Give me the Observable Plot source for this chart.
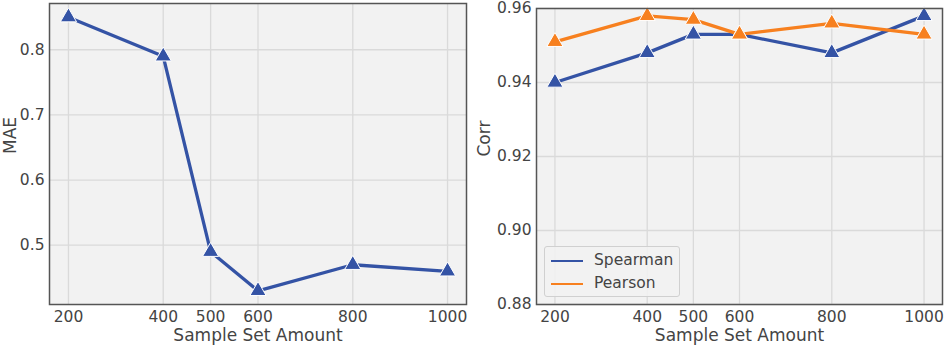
<!DOCTYPE html>
<html>
<head>
<meta charset="utf-8">
<script src="https://cdn.jsdelivr.net/npm/d3@7"></script>
<script src="https://cdn.jsdelivr.net/npm/@observablehq/plot@0.6"></script>
<style>
  body { margin: 0; background: #fff; }
  #wrap { position: relative; width: 951px; height: 345px; font-family: "DejaVu Sans", sans-serif; }
  #left { position: absolute; left: 0; top: 0; }
  #right { position: absolute; left: 470px; top: 0; }
  #legend { position: absolute; left: 544px; top: 246px; width: 136px; height: 51px; border: 1px solid #d0d0d0; border-radius: 3px; background: rgba(242,242,242,0.85); box-sizing: border-box; }
  .item { position: absolute; left: 0; font-size: 15.5px; color: #444; line-height: 18px; }
  .item span.ln { position: absolute; left: 6px; top: 9px; width: 32px; height: 2px; }
  .item span.tx { position: absolute; left: 49px; top: 0; white-space: nowrap; }
</style>
</head>
<body>
<div id="wrap">
  <div id="left"></div>
  <div id="right"></div>
  <div id="legend"></div>
</div>
<script>
const sizes = [200, 400, 500, 600, 800, 1000];
const maeValues = [0.85, 0.79, 0.49, 0.43, 0.47, 0.46];
const spearmanValues = [0.940, 0.948, 0.953, 0.953, 0.948, 0.958];
const pearsonValues = [0.951, 0.958, 0.957, 0.953, 0.956, 0.953];
const maeTicks = [0.5, 0.6, 0.7, 0.8];
const corrTicks = [0.88, 0.90, 0.92, 0.94, 0.96];
const seriesNames = ["Spearman", "Pearson"];
const seriesColors = ["#3453a5", "#f7801f"];
const xLabel = "Sample Set Amount";

const blue = seriesColors[0];
const maeData = sizes.map((s, i) => ({size: s, value: maeValues[i]}));
const corrData = [
  ...sizes.map((s, i) => ({size: s, value: spearmanValues[i], series: seriesNames[0]})),
  ...sizes.map((s, i) => ({size: s, value: pearsonValues[i], series: seriesNames[1]}))
];

const style = {fontFamily: "DejaVu Sans, sans-serif", fontSize: "15px", color: "#444", background: "transparent", overflow: "visible"};
const gridStyle = {stroke: "#dadada", strokeOpacity: 1, strokeWidth: 1.3};

function common(yTicks, fmt, yLabel, yLabelDx) {
  return [
    Plot.frame({fill: "#f2f2f2"}),
    Plot.gridX(sizes, gridStyle),
    Plot.gridY(yTicks, gridStyle),
    Plot.axisX(sizes, {tickSize: 0, tickPadding: 6, tickFormat: d => String(d), label: null, fontSize: 15.5}),
    Plot.axisY(yTicks, {tickSize: 0, tickPadding: 5, tickFormat: fmt, label: null, fontSize: 15.5}),
    Plot.text([xLabel], {text: d => d, frameAnchor: "bottom", lineAnchor: "middle", dy: 31, fontSize: 17, fill: "#444"}),
    Plot.text([yLabel], {text: d => d, frameAnchor: "left", lineAnchor: "middle", dx: yLabelDx, rotate: -90, fontSize: 17, fill: "#444"})
  ];
}

const left = Plot.plot({
  width: 480, height: 345,
  marginLeft: 49, marginRight: 14, marginTop: 3, marginBottom: 41,
  style,
  x: {domain: [160, 1040]},
  y: {domain: [0.409, 0.871]},
  marks: [
    ...common(maeTicks, d => d.toFixed(1), "MAE", -39),
    Plot.line(maeData, {x: "size", y: "value", stroke: blue, strokeWidth: 3.3}),
    Plot.dot(maeData, {x: "size", y: "value", symbol: "triangle", r: 6, fill: blue, stroke: "white", strokeWidth: 1}),
    Plot.frame({stroke: "#555", strokeWidth: 1.5})
  ]
});
document.getElementById("left").appendChild(left);

const right = Plot.plot({
  width: 481, height: 345,
  marginLeft: 66, marginRight: 9, marginTop: 8, marginBottom: 41,
  style,
  x: {domain: [160, 1040]},
  y: {domain: [0.88, 0.96]},
  color: {domain: seriesNames, range: seriesColors},
  marks: [
    ...common(corrTicks, d => d.toFixed(2), "Corr", -52),
    Plot.line(corrData, {x: "size", y: "value", z: "series", stroke: "series", strokeWidth: 3.3}),
    Plot.dot(corrData, {x: "size", y: "value", fill: "series", symbol: "triangle", r: 6, stroke: "white", strokeWidth: 1}),
    Plot.frame({stroke: "#555", strokeWidth: 1.5})
  ]
});
document.getElementById("right").appendChild(right);

const legend = document.getElementById("legend");
seriesNames.forEach((name, i) => {
  const item = document.createElement("div");
  item.className = "item";
  item.style.top = (4 + i * 23) + "px";
  item.style.width = "130px";
  item.style.height = "18px";
  const ln = document.createElement("span");
  ln.className = "ln";
  ln.style.background = seriesColors[i];
  const tx = document.createElement("span");
  tx.className = "tx";
  tx.textContent = name;
  item.appendChild(ln);
  item.appendChild(tx);
  legend.appendChild(item);
});
</script>
</body>
</html>
